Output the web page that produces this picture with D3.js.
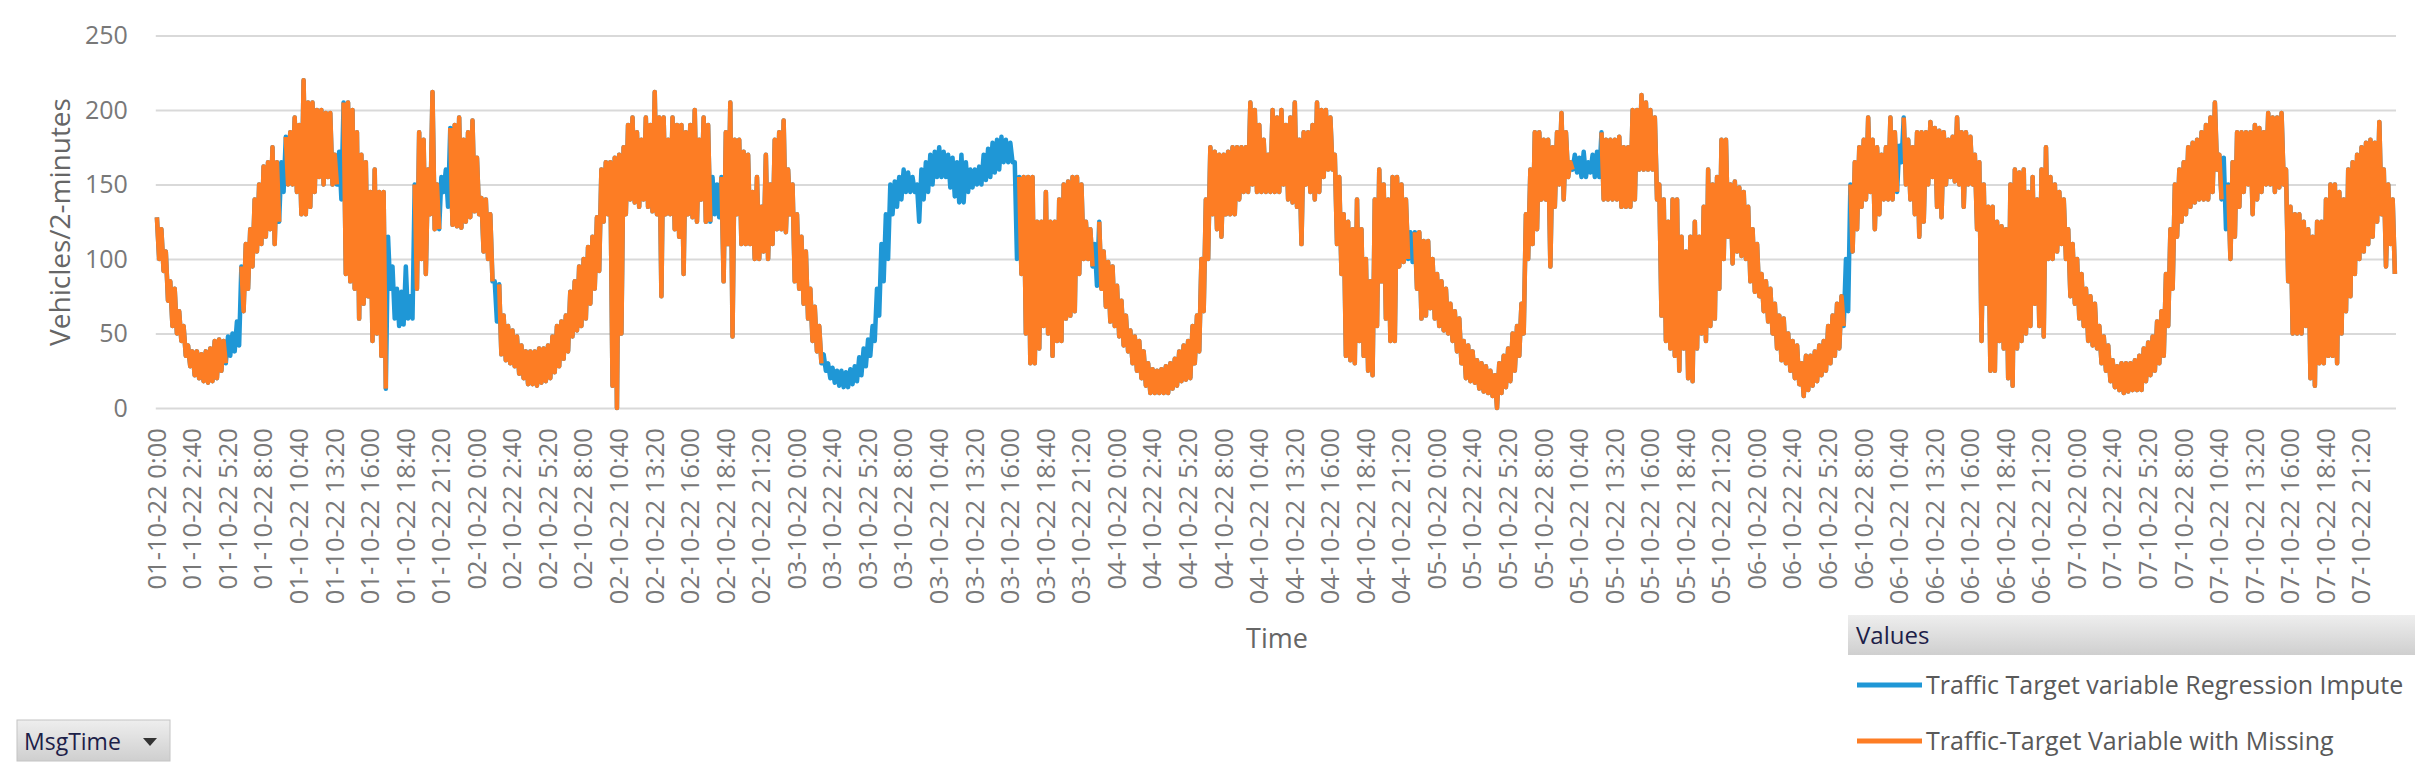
<!DOCTYPE html>
<html>
<head>
<meta charset="utf-8">
<script src="https://cdn.jsdelivr.net/npm/d3@7/dist/d3.min.js"></script>
<style>
  html, body { margin: 0; padding: 0; background: #ffffff; }
  svg { display: block; font-family: "Open Sans", "Noto Sans", sans-serif; }
</style>
</head>
<body>
<svg id="chart" width="2430" height="781"></svg>
<script>
// ---------------- data ----------------
// Dates and time-of-day labels for the category axis (every 2:40 = 80 samples of 2 minutes)
const days = ["01-10-22", "02-10-22", "03-10-22", "04-10-22", "05-10-22", "06-10-22", "07-10-22"];
const timesOfDay = ["0:00", "2:40", "5:20", "8:00", "10:40", "13:20", "16:00", "18:40", "21:20"];
const yTicks = [0, 50, 100, 150, 200, 250];

// Vehicles / 2-minutes, read per 20-minute block as the upper and lower edge of the noisy trace
// (72 blocks per day, one row per day)
const blockHigh = [
  128,120,105,85,80,65,55,42,38,38,36,38,40,45,46,45,48,50,58,95,110,120,140,150,162,165,175,165,165,182,185,195,190,220,205,205,200,200,198,198,170,172,205,205,200,185,170,165,145,160,145,145,115,95,80,78,95,75,150,185,180,160,212,150,155,160,188,190,195,180,185,193,
  168,141,140,130,85,83,62,55,52,48,42,38,38,38,40,40,42,48,55,58,62,78,85,95,100,108,115,128,160,165,165,168,170,175,190,195,185,180,195,190,212,195,195,180,195,190,190,185,190,200,180,195,190,155,150,155,185,205,180,180,172,170,145,155,135,170,150,180,185,193,160,150,
  130,115,105,80,68,55,36,30,27,25,25,24,26,28,34,40,46,55,80,110,130,150,152,155,160,158,155,150,160,165,170,172,175,172,170,168,165,170,165,160,160,162,170,174,178,180,182,180,178,165,155,155,155,155,125,125,145,125,125,140,150,152,155,155,150,125,120,110,125,105,98,95,
  82,72,62,52,48,45,38,30,26,25,26,28,30,33,38,42,45,55,62,100,140,175,172,170,170,172,175,175,175,175,205,200,190,180,170,200,195,200,190,195,205,180,185,185,190,205,200,200,195,170,155,130,125,120,140,120,100,85,140,160,150,140,155,155,150,140,118,118,118,112,112,100,
  90,85,80,70,65,60,45,42,38,32,30,28,25,22,30,35,40,50,55,70,130,160,185,185,180,180,175,185,198,185,165,170,168,172,165,170,172,185,180,180,180,182,175,175,200,200,210,205,200,195,150,140,125,140,140,115,105,115,125,115,135,160,150,155,180,180,150,152,148,145,135,120,
  110,90,85,80,70,62,60,50,45,42,30,35,35,38,42,45,55,62,70,75,100,150,165,175,180,195,180,175,170,175,195,185,176,195,180,175,185,185,185,192,188,186,185,180,182,195,185,185,182,170,165,150,135,135,125,122,120,150,160,158,160,145,155,140,160,175,155,150,145,140,120,110,
  100,90,80,75,70,55,48,42,32,28,30,30,30,32,35,40,44,48,58,65,90,120,150,160,165,175,178,180,185,190,195,205,170,168,150,165,185,185,185,185,190,188,185,198,195,195,198,160,135,130,130,125,120,115,125,125,140,150,150,145,140,160,165,170,175,178,180,178,192,160,150,140
];
const blockLow = [
  100,92,72,55,50,45,35,28,22,20,18,17,18,20,25,30,35,38,42,65,80,95,105,110,115,120,110,125,145,150,150,145,130,130,135,145,155,150,155,150,150,140,90,85,80,60,70,75,45,50,35,13,80,60,55,56,60,60,80,100,90,130,120,120,145,135,123,122,121,125,128,132,
  130,105,100,85,58,36,32,30,28,23,20,16,16,15,17,18,20,24,28,33,38,48,52,55,60,70,80,92,125,130,15,0,50,130,140,138,135,140,135,132,130,75,130,130,120,115,90,130,128,125,140,125,125,130,128,85,110,48,130,110,110,110,100,100,105,100,110,120,120,118,130,85,
  80,70,60,45,38,30,25,20,17,15,14,14,16,18,22,28,35,45,62,85,100,130,135,140,145,145,145,125,140,145,150,155,155,155,148,142,138,138,145,148,150,150,153,155,158,160,165,165,165,100,90,50,30,30,40,55,50,35,45,45,60,62,65,90,100,100,95,82,80,68,58,55,
  48,42,38,30,25,20,15,10,10,10,10,10,13,15,18,19,20,30,38,65,100,130,120,115,130,130,130,140,145,145,150,145,145,145,145,145,145,150,140,138,135,110,150,145,140,145,155,160,160,110,90,35,32,30,45,35,25,22,55,85,60,45,45,95,98,100,98,80,60,62,67,60,
  55,52,50,45,38,30,20,18,17,13,11,10,8,0,10,14,18,25,35,50,100,110,120,140,140,95,135,150,140,155,160,158,155,155,158,155,155,140,140,140,140,135,135,135,140,160,160,160,160,140,62,45,40,35,25,40,20,18,40,50,45,55,60,80,100,115,97,105,102,100,85,78,
  75,65,58,50,40,32,30,25,20,16,8,12,15,18,22,25,30,35,40,55,65,105,120,135,140,145,120,130,140,140,140,145,165,150,140,130,115,125,150,155,135,128,150,155,152,150,135,150,150,120,45,70,25,25,45,40,20,15,40,45,50,55,70,55,48,100,100,105,110,100,75,70,
  60,55,45,42,40,30,25,18,14,12,10,11,12,12,12,18,22,25,30,35,55,80,115,125,130,135,138,140,140,140,145,160,140,120,100,115,135,145,150,130,140,145,150,150,145,148,150,85,50,50,50,55,20,15,30,30,35,35,30,50,65,75,90,100,105,110,115,125,130,95,110,90
];
// 20-minute blocks (inclusive ranges) where the "with Missing" series has no value,
// so only the regression-imputed series is visible
const missingBlocks = [[16,18],[28,28],[41,41],[52,57],[64,65],[76,76],[125,126],[150,193],[211,211],[282,282],[319,324],[380,380],[392,392],[465,465]];

const seriesNames = ["Traffic Target variable Regression Impute", "Traffic-Target Variable with Missing"];
const seriesColors = ["#1f97d6", "#fd7d24"];

// ---------------- derived tables ----------------
const samplesPerBlock = 10;          // 20 min / 2 min
const samplesTotal = blockHigh.length * samplesPerBlock;   // 5040
const tickLabels = [];
const tickIdx = [];
days.forEach((d, di) => timesOfDay.forEach((t, ti) => {
  tickLabels.push(d + " " + t);
  tickIdx.push((di * timesOfDay.length + ti) * 80);
}));
const isMissing = b => missingBlocks.some(([a, z]) => b >= a && b <= z);
const imputePts = [];
const missingPts = [];
blockHigh.forEach((h, b) => {
  const l = blockLow[b];
  const p1 = { i: b * samplesPerBlock + 2, v: h };
  const p2 = { i: b * samplesPerBlock + 7, v: l };
  imputePts.push(p1, p2);
  const miss = isMissing(b);
  missingPts.push({ i: p1.i, v: miss ? null : h }, { i: p2.i, v: miss ? null : l });
});

// ---------------- layout ----------------
const svg = d3.select("#chart");
const plot = { left: 155.8, right: 2396, top: 35.5, bottom: 408 };

const x = d3.scaleLinear().domain([-0.5, samplesTotal - 0.5]).range([plot.left, plot.right]);
const y = d3.scaleLinear().domain([0, 250]).range([plot.bottom, plot.top]);

svg.append("rect").attr("width", 2430).attr("height", 781).attr("fill", "#ffffff");

// y axis with gridlines
const yAxis = svg.append("g")
  .attr("transform", `translate(${plot.left},0)`)
  .call(d3.axisLeft(y).tickValues(yTicks).tickSize(-(plot.right - plot.left)).tickPadding(28));
yAxis.select(".domain").remove();
yAxis.selectAll(".tick line").attr("stroke", "#d9d9d9").attr("stroke-width", 2);
yAxis.selectAll(".tick text")
  .attr("fill", "#787878").style("font-size", "25px").style("font-family", "'Open Sans'");

// x axis labels (rotated)
const xAxis = svg.append("g")
  .attr("transform", `translate(0,${plot.bottom})`)
  .call(d3.axisBottom(x).tickValues(tickIdx).tickFormat((d, k) => tickLabels[k]).tickSize(0));
xAxis.select(".domain").remove();
xAxis.selectAll(".tick text")
  .attr("transform", "rotate(-90)")
  .attr("text-anchor", "end")
  .attr("x", -20).attr("y", 0).attr("dy", "0.36em")
  .attr("fill", "#787878").style("font-size", "25.6px").style("font-family", "'Open Sans'");

// axis titles
svg.append("text")
  .attr("transform", "translate(60,222) rotate(-90)")
  .attr("text-anchor", "middle").attr("dy", "0.36em")
  .attr("fill", "#666666").style("font-size", "28px")
  .text("Vehicles/2-minutes");
svg.append("text")
  .attr("x", 1277).attr("y", 648).attr("text-anchor", "middle")
  .attr("fill", "#666666").style("font-size", "27px")
  .text("Time");

// series
const line = d3.line().defined(d => d.v !== null).x(d => x(d.i)).y(d => y(d.v));
svg.append("path").datum(imputePts)
  .attr("fill", "none").attr("stroke", seriesColors[0]).attr("stroke-width", 4.5)
  .attr("stroke-linejoin", "round").attr("d", line);
svg.append("path").datum(missingPts)
  .attr("fill", "none").attr("stroke", seriesColors[1]).attr("stroke-width", 4.5)
  .attr("stroke-linejoin", "round").attr("d", line);

// gradients for the pivot-style buttons
const defs = svg.append("defs");
const g1 = defs.append("linearGradient").attr("id", "btnGrad").attr("x1", 0).attr("y1", 0).attr("x2", 0).attr("y2", 1);
g1.append("stop").attr("offset", "0%").attr("stop-color", "#eeeeee");
g1.append("stop").attr("offset", "100%").attr("stop-color", "#cfcfcf");

// legend ("Values" field header)
svg.append("rect").attr("x", 1848).attr("y", 615).attr("width", 567).attr("height", 40).attr("fill", "url(#btnGrad)");
svg.append("text").attr("x", 1856).attr("y", 644)
  .attr("fill", "#1c2048").style("font-size", "24px").text("Values");
const legendY = [685, 741];
seriesNames.forEach((name, k) => {
  svg.append("line").attr("x1", 1857).attr("x2", 1922).attr("y1", legendY[k]).attr("y2", legendY[k])
    .attr("stroke", seriesColors[k]).attr("stroke-width", 5);
  svg.append("text").attr("x", 1926).attr("y", legendY[k]).attr("dy", "0.36em")
    .attr("fill", "#595959").style("font-size", "25px").text(name);
});

// MsgTime field button
svg.append("rect").attr("x", 17).attr("y", 720).attr("width", 153).attr("height", 41)
  .attr("fill", "url(#btnGrad)").attr("stroke", "#c4c4c4").attr("stroke-width", 1);
svg.append("text").attr("x", 24).attr("y", 750)
  .attr("fill", "#1c2048").style("font-size", "23px").text("MsgTime");
svg.append("path").attr("d", "M143,738 L157,738 L150,746 Z").attr("fill", "#333333");
</script>
</body>
</html>
